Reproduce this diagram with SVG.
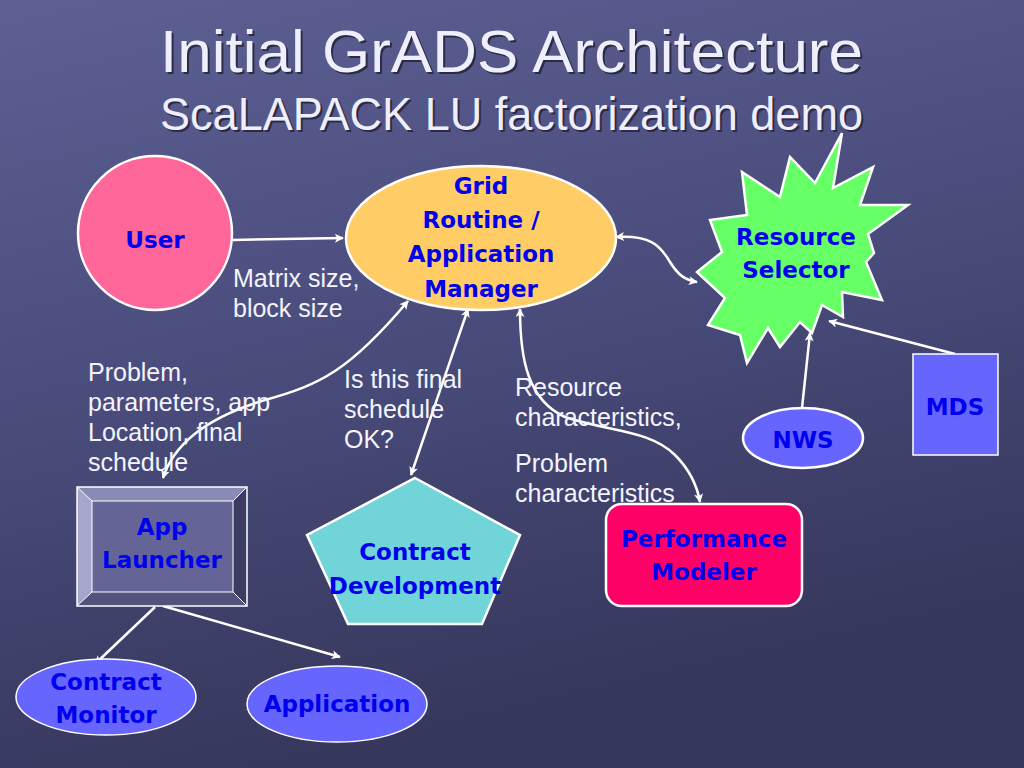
<svg xmlns="http://www.w3.org/2000/svg" width="1024" height="768" viewBox="0 0 1024 768">
<defs>
<linearGradient id="bg" x1="0" y1="0" x2="0.3" y2="1">
<stop offset="0" stop-color="#5d6093"/>
<stop offset="0.5" stop-color="#4a4c7c"/>
<stop offset="1" stop-color="#35375c"/>
</linearGradient>
<marker id="ah" viewBox="0 0 10 10" refX="9" refY="5" markerWidth="10" markerHeight="9" markerUnits="userSpaceOnUse" orient="auto-start-reverse">
<path d="M0,0 L10,5 L0,10 L2.5,5 Z" fill="#ffffff"/>
</marker>
<style>
.t{font-family:"Liberation Sans",Arial,sans-serif;fill:#eeeefc}
.lbl{font-family:"Liberation Sans",Arial,sans-serif;font-size:25px;fill:#f4f4ff}
.nt{font-family:"DejaVu Sans","Noto Sans",sans-serif;font-weight:bold;font-size:23px;fill:#0000ee;text-anchor:middle}
.c{fill:none;stroke:#ffffff;stroke-width:2.5;marker-end:url(#ah)}
.cb{fill:none;stroke:#ffffff;stroke-width:2.5;marker-end:url(#ah);marker-start:url(#ah)}
.ns{stroke:#ffffff;stroke-width:2.5}
</style>
</defs>
<rect width="1024" height="768" fill="url(#bg)"/>

<g id="title">
<text class="t" x="162" y="74" font-size="60" textLength="703" lengthAdjust="spacingAndGlyphs" style="fill:#2a2b45">Initial GrADS Architecture</text>
<text class="t" x="160" y="72" font-size="60" textLength="703" lengthAdjust="spacingAndGlyphs">Initial GrADS Architecture</text>
<text class="t" x="162" y="132" font-size="47" textLength="703" lengthAdjust="spacingAndGlyphs" style="fill:#2a2b45">ScaLAPACK LU factorization demo</text>
<text class="t" x="160" y="130" font-size="47" textLength="703" lengthAdjust="spacingAndGlyphs">ScaLAPACK LU factorization demo</text>
</g>

<g id="connectors">
<path class="c" d="M233,240 L343,238"/>
<path class="cb" d="M163,478 C175,440 215,415 265,400 C320,385 350,370 408,301"/>
<path class="cb" d="M411,475 C430,420 450,360 468,309"/>
<path class="cb" d="M520,309 C520,360 528,400 565,417 C610,432 650,430 675,455 C690,470 697,485 700,502"/>
<path class="cb" d="M616,237 C650,235 660,245 670,262 C678,275 685,280 697,282"/>
<path class="c" d="M802,408 L810,333"/>
<path class="c" d="M955,354 L829,321"/>
<path class="c" d="M155,607 L95,664"/>
<path class="c" d="M163,606 L340,657"/>
</g>

<g id="labels">
<text class="lbl" x="233" y="287">Matrix size,</text>
<text class="lbl" x="233" y="317">block size</text>
<text class="lbl" x="88" y="381">Problem,</text>
<text class="lbl" x="88" y="411">parameters, app</text>
<text class="lbl" x="88" y="441">Location, final</text>
<text class="lbl" x="88" y="471">schedule</text>
<text class="lbl" x="344" y="388">Is this final</text>
<text class="lbl" x="344" y="418">schedule</text>
<text class="lbl" x="344" y="448">OK?</text>
<text class="lbl" x="515" y="396">Resource</text>
<text class="lbl" x="515" y="426">characteristics,</text>
<text class="lbl" x="515" y="472">Problem</text>
<text class="lbl" x="515" y="502">characteristics</text>
</g>

<g id="user">
<circle class="ns" cx="155" cy="233" r="77" fill="#ff6699"/>
<text class="nt" x="155" y="248">User</text>
</g>

<g id="grid-manager">
<ellipse class="ns" cx="481" cy="238" rx="135" ry="72" fill="#ffcc66"/>
<text class="nt" x="481" y="194">Grid</text>
<text class="nt" x="481" y="228">Routine /</text>
<text class="nt" x="481" y="262">Application</text>
<text class="nt" x="481" y="297">Manager</text>
</g>

<g id="resource-selector">
<polygon class="ns" fill="#66ff66" points="842,133 833,188 873,167 860,205 908,205 868,234 874,253 866,262 882,300 842,292 843,317 822,305 812,333 800,322 780,347 768,328 747,363 740,335 708,325 725,298 697,272 722,252 710,220 747,215 742,172 780,197 790,157 815,183"/>
<text class="nt" x="796" y="245">Resource</text>
<text class="nt" x="796" y="278">Selector</text>
</g>

<g id="nws">
<ellipse class="ns" cx="803" cy="438" rx="60" ry="30" fill="#6666ff" stroke-width="1.5"/>
<text class="nt" x="803" y="448">NWS</text>
</g>

<g id="mds">
<rect x="913" y="354" width="85" height="101" fill="#6666ff" stroke="#ffffff" stroke-width="1.5"/>
<text class="nt" x="955" y="415">MDS</text>
</g>

<g id="app-launcher">
<rect x="77" y="487" width="170" height="119" fill="#646496"/>
<polygon points="77,487 247,487 233,501 92,501" fill="#8a8ab6"/>
<polygon points="77,487 92,501 92,592 77,606" fill="#a6a6cc"/>
<polygon points="247,487 247,606 233,592 233,501" fill="#3c3c62"/>
<polygon points="77,606 92,592 233,592 247,606" fill="#52527c"/>
<rect x="92" y="501" width="141" height="91" fill="#646496" stroke="#ffffff" stroke-width="1"/>
<rect x="77" y="487" width="170" height="119" fill="none" stroke="#ffffff" stroke-width="1.5"/>
<path d="M77,487 L92,501 M247,487 L233,501 M77,606 L92,592 M247,606 L233,592" stroke="#ffffff" stroke-width="1"/>
<text class="nt" x="162" y="535">App</text>
<text class="nt" x="162" y="568">Launcher</text>
</g>

<g id="contract-development">
<polygon class="ns" fill="#70d4d8" points="415,478 520,535 482,624 348,624 307,535"/>
<text class="nt" x="415" y="560">Contract</text>
<text class="nt" x="415" y="594">Development</text>
</g>

<g id="performance-modeler">
<rect class="ns" x="606" y="504" width="196" height="102" rx="16" fill="#ff0066"/>
<text class="nt" x="704" y="547">Performance</text>
<text class="nt" x="704" y="580">Modeler</text>
</g>

<g id="contract-monitor">
<ellipse cx="106" cy="697" rx="90" ry="38" fill="#6666ff" stroke="#ffffff" stroke-width="1.5"/>
<text class="nt" x="106" y="690">Contract</text>
<text class="nt" x="106" y="723">Monitor</text>
</g>

<g id="application">
<ellipse cx="337" cy="704" rx="90" ry="38" fill="#6666ff" stroke="#ffffff" stroke-width="1.5"/>
<text class="nt" x="337" y="712">Application</text>
</g>
</svg>
